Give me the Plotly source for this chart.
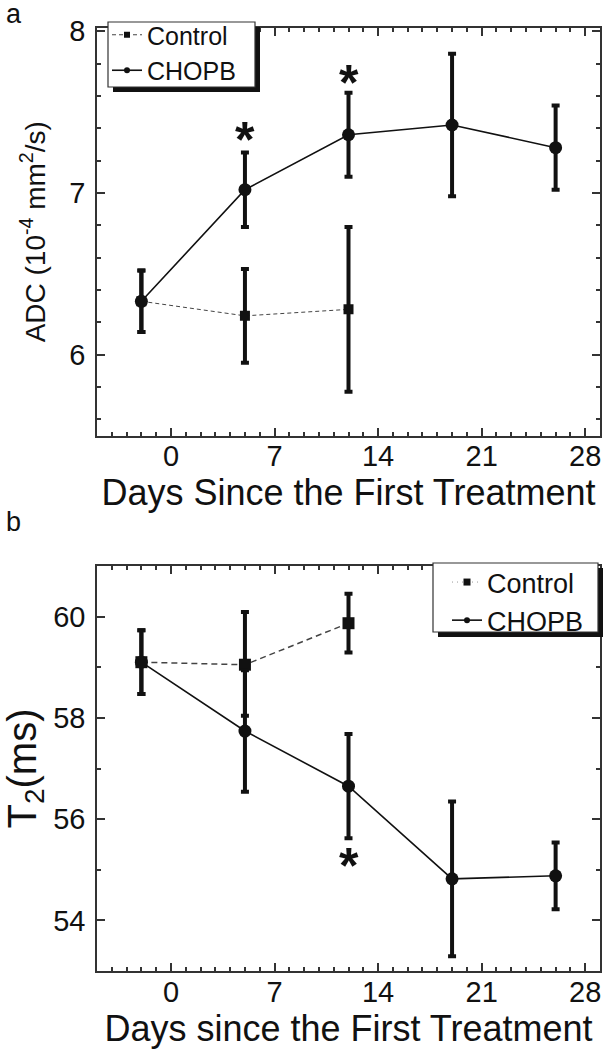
import plotly.graph_objects as go

# ---------------- data ----------------
days_all = [-2, 5, 12, 19, 26]
days_ctrl = [-2, 5, 12]

adc_control = [6.33, 6.24, 6.28]
adc_control_err = [0.19, 0.29, 0.51]
adc_chopb = [6.33, 7.02, 7.36, 7.42, 7.28]
adc_chopb_err = [0.19, 0.23, 0.26, 0.44, 0.26]

t2_control = [59.1, 59.05, 59.87]
t2_control_err_plus = [0.63, 1.04, 0.58]
t2_control_err_minus = [0.63, 1.01, 0.58]
t2_chopb = [59.1, 57.74, 56.65, 54.82, 54.88]
t2_chopb_err = [0.63, 1.2, 1.03, 1.53, 0.66]

adc_star_days = [5, 12]
adc_star_y = [7.33, 7.68]
t2_star_days = [12]
t2_star_y = [55.08]

x_ticks = [0, 7, 14, 21, 28]

# ---------------- layout helpers ----------------
W, H = 605, 1050
ML, MR, MT, MB = 97, 5, 28, 79
PW = W - ML - MR
PH = H - MT - MB
A_BOTTOM = 435.5
B_TOP = 566

def px(x):
    return (x - ML) / PW

def py(y):
    return (H - MB - y) / PH

INK = "#111111"
AX = "#333333"
FONT = "Liberation Sans, Arial, sans-serif"
NB = "\u00a0"

fig = go.Figure()

# ---- panel a ----
fig.add_trace(go.Scatter(
    x=days_ctrl, y=adc_control, mode="lines+markers", xaxis="x", yaxis="y",
    line=dict(color="#444444", width=1, dash="4px,3px"),
    marker=dict(symbol="square", size=10, color=INK),
    error_y=dict(type="data", array=adc_control_err, color=INK, thickness=4, width=4),
    showlegend=False))
fig.add_trace(go.Scatter(
    x=days_all, y=adc_chopb, mode="lines+markers", xaxis="x", yaxis="y",
    line=dict(color=INK, width=1.6),
    marker=dict(symbol="circle", size=13, color=INK),
    error_y=dict(type="data", array=adc_chopb_err, color=INK, thickness=4, width=4),
    showlegend=False))
# legend entries a
fig.add_trace(go.Scatter(x=[None], y=[None], mode="lines+markers", name="Control",
    line=dict(color="#444444", width=1, dash="4px,3px"),
    marker=dict(symbol="square", size=6, color=INK), legend="legend"))
fig.add_trace(go.Scatter(x=[None], y=[None], mode="lines+markers", name="CHOPB",
    line=dict(color=INK, width=1.6),
    marker=dict(symbol="circle", size=6, color=INK), legend="legend"))

# ---- panel b ----
fig.add_trace(go.Scatter(
    x=days_ctrl, y=t2_control, mode="lines+markers", xaxis="x2", yaxis="y2",
    line=dict(color="#444444", width=1.5, dash="6px,4px"),
    marker=dict(symbol="square", size=12, color=INK),
    error_y=dict(type="data", symmetric=False, array=t2_control_err_plus,
                 arrayminus=t2_control_err_minus, color=INK, thickness=4, width=4),
    showlegend=False))
fig.add_trace(go.Scatter(
    x=days_all, y=t2_chopb, mode="lines+markers", xaxis="x2", yaxis="y2",
    line=dict(color=INK, width=1.6),
    marker=dict(symbol="circle", size=13, color=INK),
    error_y=dict(type="data", array=t2_chopb_err, color=INK, thickness=4, width=4),
    showlegend=False))
fig.add_trace(go.Scatter(x=[None], y=[None], mode="lines+markers", name="Control",
    line=dict(color="#999999", width=1, dash="1px,4px"),
    marker=dict(symbol="square", size=7, color=INK), legend="legend2"))
fig.add_trace(go.Scatter(x=[None], y=[None], mode="lines+markers", name="CHOPB",
    line=dict(color=INK, width=1.6),
    marker=dict(symbol="circle", size=6, color=INK), legend="legend2"))

# asterisks
for d, v in zip(adc_star_days, adc_star_y):
    fig.add_annotation(x=d, y=v, xref="x", yref="y", text="<b>*</b>", showarrow=False,
                       font=dict(size=50, color=INK, family=FONT), yanchor="middle")
for d, v in zip(t2_star_days, t2_star_y):
    fig.add_annotation(x=d, y=v, xref="x2", yref="y2", text="<b>*</b>", showarrow=False,
                       font=dict(size=50, color=INK, family=FONT), yanchor="middle")

# panel labels
fig.add_annotation(x=px(4), y=py(14), xref="paper", yref="paper", text="a",
                   showarrow=False, xanchor="left", yanchor="middle",
                   font=dict(size=27, color=INK, family=FONT))
fig.add_annotation(x=px(4), y=py(522), xref="paper", yref="paper", text="b",
                   showarrow=False, xanchor="left", yanchor="middle",
                   font=dict(size=27, color=INK, family=FONT))

# legend boxes with drop shadow
def box(x0, y0, x1, y1, off=5):
    fig.add_shape(type="rect", xref="paper", yref="paper",
                  x0=px(x0 + off), x1=px(x1 + off), y0=py(y1 + off), y1=py(y0 + off),
                  fillcolor=INK, line=dict(width=0), layer="above")
    fig.add_shape(type="rect", xref="paper", yref="paper",
                  x0=px(x0), x1=px(x1), y0=py(y1), y1=py(y0),
                  fillcolor="white", line=dict(color=AX, width=1.2), layer="above")

box(108, 22, 255, 87)
box(433, 563, 598, 632)

axis_common = dict(
    showline=True, linecolor=AX, linewidth=1.5, mirror="ticks",
    ticks="inside", ticklen=8, tickwidth=1.5, tickcolor=AX,
    showgrid=False, zeroline=False, automargin=False,
    tickfont=dict(size=29, color=INK, family=FONT),
)

dom_a = [py(A_BOTTOM), 1.0]
dom_b = [0.0, py(B_TOP)]

xtitle_font = dict(size=36, color=INK, family=FONT)

fig.update_layout(
    width=W, height=H, paper_bgcolor="white", plot_bgcolor="white",
    margin=dict(l=ML, r=MR, t=MT, b=MB),
    font=dict(family=FONT, color=INK),
    xaxis=dict(**axis_common, domain=[0, 1], anchor="y", range=[-5, 29],
               tickmode="array", tickvals=x_ticks,
               minor=dict(ticks="inside", ticklen=4, dtick=1, tick0=0, tickcolor=AX),
               title=dict(text="Days Since the First Treatment", font=xtitle_font, standoff=0),
               ticklabelstandoff=-6),
    yaxis=dict(**axis_common, domain=dom_a, anchor="x", range=[5.5, 8.02],
               tickmode="linear", tick0=6, dtick=1,
               minor=dict(ticks="inside", ticklen=4, dtick=0.2, tick0=6, tickcolor=AX),
               title=dict(text="ADC (10<sup>-4</sup> mm<sup>2</sup>/s)" + NB * 3,
                          font=dict(size=28, color=INK, family=FONT), standoff=16),
               ticklabelstandoff=4),
    xaxis2=dict(**axis_common, domain=[0, 1], anchor="y2", range=[-5, 29],
                tickmode="array", tickvals=x_ticks,
                minor=dict(ticks="inside", ticklen=4, dtick=1, tick0=0, tickcolor=AX),
                title=dict(text="Days since the First Treatment", font=xtitle_font, standoff=0),
                ticklabelstandoff=-6),
    yaxis2=dict(**axis_common, domain=dom_b, anchor="x2", range=[53, 61],
                tickmode="linear", tick0=54, dtick=2,
                minor=dict(ticks="inside", ticklen=4, dtick=1, tick0=54, tickcolor=AX),
                title=dict(text="T<sub>2</sub>(ms)" + NB * 2,
                           font=dict(size=40, color=INK, family=FONT), standoff=14),
                ticklabelstandoff=4),
    legend=dict(x=px(107), y=py(12), xanchor="left", yanchor="top",
                bgcolor="rgba(0,0,0,0)", borderwidth=0,
                font=dict(size=25, color=INK, family=FONT),
                tracegroupgap=0, itemwidth=30),
    legend2=dict(x=px(447), y=py(558), xanchor="left", yanchor="top",
                 bgcolor="rgba(0,0,0,0)", borderwidth=0,
                 font=dict(size=27, color=INK, family=FONT),
                 tracegroupgap=0, itemwidth=30),
)

fig.write_html("out.html", config={"displayModeBar": False},
               post_script="document.body.style.margin='0';")
